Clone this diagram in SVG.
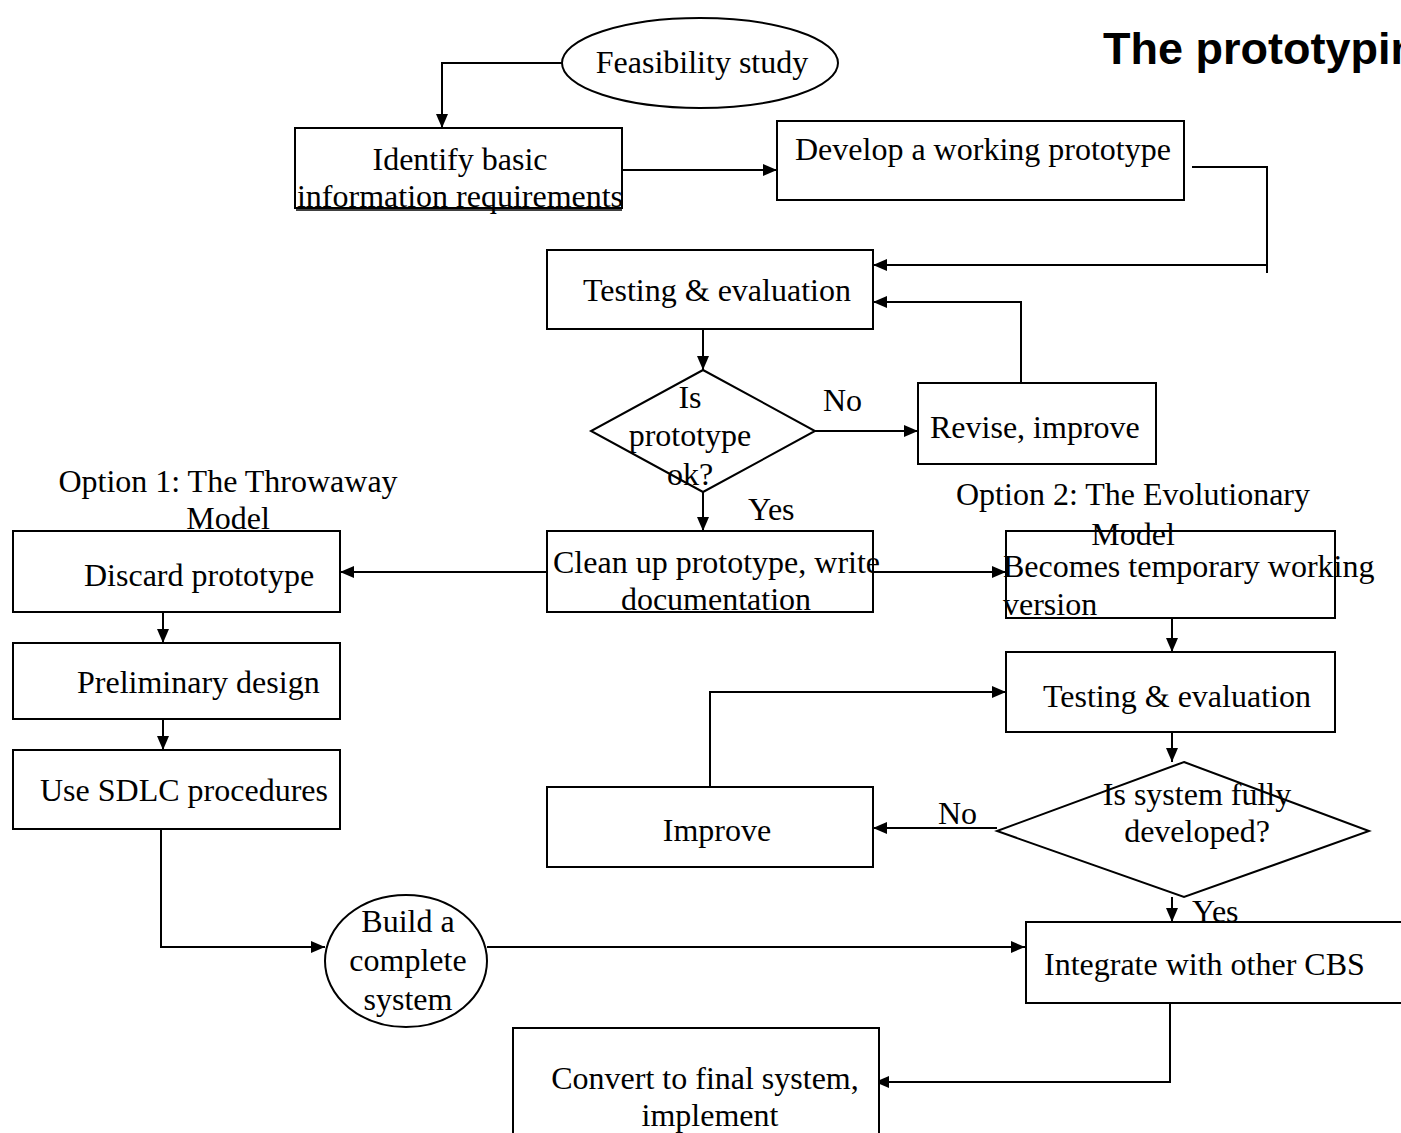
<svg xmlns="http://www.w3.org/2000/svg" width="1401" height="1133" viewBox="0 0 1401 1133">
<style>
.n{fill:#fff;stroke:#000;stroke-width:2}
.t{font-family:"Liberation Serif","Times New Roman",serif;font-size:32px;fill:#000}
.m{text-anchor:middle}
.c{fill:none;stroke:#000;stroke-width:2}
.title{font-family:"Liberation Sans",Arial,sans-serif;font-size:45px;font-weight:bold;fill:#000}
</style>
<defs>
<marker id="ah" viewBox="0 0 14 12" refX="14" refY="6" markerWidth="14" markerHeight="12" markerUnits="userSpaceOnUse" orient="auto">
<path d="M0,0 L14,6 L0,12 Z" fill="#000"/>
</marker>
</defs>
<rect width="1401" height="1133" fill="#fff"/>
<text class="title" x="1103" y="64">The prototyping model</text>

<g id="connectors">
<path class="c" d="M562,63 H442 V128" marker-end="url(#ah)"/>
<path class="c" d="M622,170 H777" marker-end="url(#ah)"/>
<path class="c" d="M1192,167 H1267 V273 M1267,265 H873" marker-end="url(#ah)"/>
<path class="c" d="M1021,383 V302 H873" marker-end="url(#ah)"/>
<path class="c" d="M703,329 V370" marker-end="url(#ah)"/>
<path class="c" d="M815,431 H918" marker-end="url(#ah)"/>
<path class="c" d="M703,492 V531" marker-end="url(#ah)"/>
<path class="c" d="M547,572 H340" marker-end="url(#ah)"/>
<path class="c" d="M873,572 H1006" marker-end="url(#ah)"/>
<path class="c" d="M163,612 V643" marker-end="url(#ah)"/>
<path class="c" d="M163,719 V750" marker-end="url(#ah)"/>
<path class="c" d="M161,829 V947 H325" marker-end="url(#ah)"/>
<path class="c" d="M487,947 H1025" marker-end="url(#ah)"/>
<path class="c" d="M1172,618 V652" marker-end="url(#ah)"/>
<path class="c" d="M1172,732 V762" marker-end="url(#ah)"/>
<path class="c" d="M997,828 H873" marker-end="url(#ah)"/>
<path class="c" d="M710,787 V692 H1006" marker-end="url(#ah)"/>
<path class="c" d="M1172,897 V922" marker-end="url(#ah)"/>
<path class="c" d="M1170,1003 V1082 H875" marker-end="url(#ah)"/>
<text class="t" x="823" y="411">No</text>
<text class="t" x="748" y="520">Yes</text>
<text class="t" x="938" y="824">No</text>
<text class="t" x="1192" y="922">Yes</text>
</g>

<g id="feasibility">
<ellipse class="n" cx="700" cy="63" rx="138" ry="45"/>
<text class="t m" x="702" y="73">Feasibility study</text>
</g>
<g id="identify">
<rect class="n" x="295" y="128" width="327" height="80"/>
<text class="t m" x="460" y="170">Identify basic</text>
<text class="t m" x="460" y="207">information requirements</text>
<line x1="296" y1="210" x2="622" y2="210" stroke="#000" stroke-width="1.5"/>
</g>
<g id="develop">
<rect class="n" x="777" y="121" width="407" height="79"/>
<text class="t" x="795" y="160">Develop a working prototype</text>
</g>
<g id="testing1">
<rect class="n" x="547" y="250" width="326" height="79"/>
<text class="t" x="583" y="301">Testing &amp; evaluation</text>
</g>
<g id="decision1">
<polygon class="n" points="703,370 815,431 703,492 591,431"/>
<text class="t m" x="690" y="408">Is</text>
<text class="t m" x="690" y="446">prototype</text>
<text class="t m" x="690" y="485">ok?</text>
</g>
<g id="revise">
<rect class="n" x="918" y="383" width="238" height="81"/>
<text class="t" x="930" y="438">Revise, improve</text>
</g>
<g id="option1">
<text class="t m" x="228" y="492">Option 1: The Throwaway</text>
<text class="t m" x="228" y="529">Model</text>
</g>
<g id="cleanup">
<rect class="n" x="547" y="531" width="326" height="81"/>
<text class="t" x="553" y="573">Clean up prototype, write</text>
<text class="t m" x="716" y="610">documentation</text>
</g>
<g id="discard">
<rect class="n" x="13" y="531" width="327" height="81"/>
<text class="t" x="84" y="586">Discard prototype</text>
</g>
<g id="preliminary">
<rect class="n" x="13" y="643" width="327" height="76"/>
<text class="t" x="77" y="693">Preliminary design</text>
</g>
<g id="sdlc">
<rect class="n" x="13" y="750" width="327" height="79"/>
<text class="t" x="40" y="801">Use SDLC procedures</text>
</g>
<g id="build">
<ellipse class="n" cx="406" cy="961" rx="81" ry="66"/>
<text class="t m" x="408" y="932">Build a</text>
<text class="t m" x="408" y="971">complete</text>
<text class="t m" x="408" y="1010">system</text>
</g>
<g id="becomes">
<rect class="n" x="1006" y="531" width="329" height="87"/>
<text class="t" x="1003" y="577">Becomes temporary working</text>
<text class="t" x="1003" y="615">version</text>
</g>
<g id="option2">
<text class="t m" x="1133" y="505">Option 2: The Evolutionary</text>
<text class="t m" x="1133" y="545">Model</text>
</g>
<g id="testing2">
<rect class="n" x="1006" y="652" width="329" height="80"/>
<text class="t" x="1043" y="707">Testing &amp; evaluation</text>
</g>
<g id="decision2">
<polygon class="n" points="1184,762 1369,831 1184,897 997,831" style="fill:none"/>
<text class="t m" x="1197" y="805">Is system fully</text>
<text class="t m" x="1197" y="842">developed?</text>
</g>
<g id="improve">
<rect class="n" x="547" y="787" width="326" height="80"/>
<text class="t m" x="717" y="841">Improve</text>
</g>
<g id="integrate">
<rect class="n" x="1026" y="922" width="380" height="81"/>
<text class="t" x="1044" y="975">Integrate with other CBS</text>
</g>
<g id="convert">
<rect class="n" x="513" y="1028" width="366" height="110"/>
<text class="t m" x="705" y="1089">Convert to final system,</text>
<text class="t m" x="710" y="1126">implement</text>
</g>
</svg>
